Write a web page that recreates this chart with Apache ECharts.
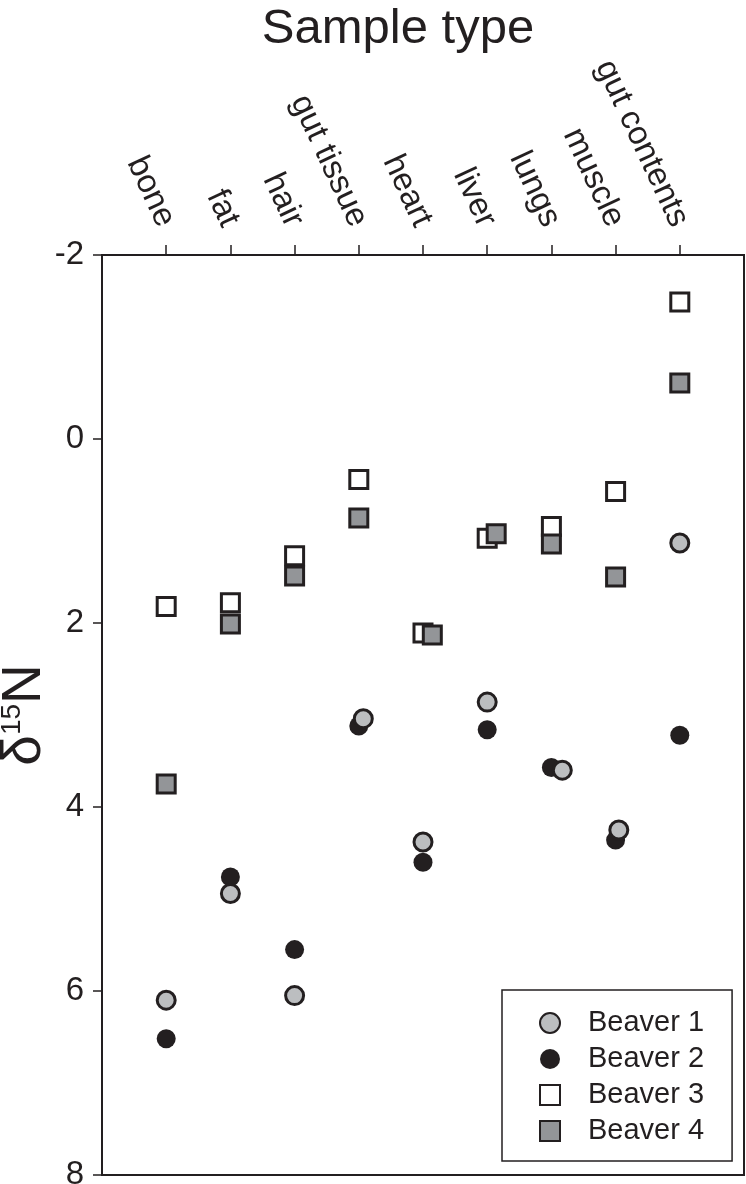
<!DOCTYPE html>
<html>
<head>
<meta charset="utf-8">
<title>Sample type</title>
<script src="https://cdn.jsdelivr.net/npm/echarts@6/dist/echarts.min.js"></script>
<style>
html, body { margin: 0; padding: 0; background: #fff; }
#chart { width: 746px; height: 1184px; }
</style>
</head>
<body>
<div id="chart"></div>
<script>
// categories along the top axis
var categories = ['bone', 'fat', 'hair', 'gut tissue', 'heart', 'liver', 'lungs', 'muscle', 'gut contents'];
var yTicks = [-2, 0, 2, 4, 6, 8];

// d15N per sample type
var beaver1 = [6.10, 4.94, 6.05, 3.04, 4.38, 2.86, 3.60, 4.25, 1.13];
var beaver2 = [6.52, 4.76, 5.55, 3.12, 4.60, 3.16, 3.57, 4.36, 3.22];
var beaver3 = [1.82, 1.78, 1.27, 0.44, 2.11, 1.08, 0.95, 0.57, -1.49];
var beaver4 = [3.75, 2.01, 1.49, 0.86, 2.13, 1.03, 1.14, 1.50, -0.61];

// small sideways shift (in category units) used in the original to separate overlapping points
var shift1 = [0, 0, 0, 0.07, 0, 0, 0.17, 0.05, 0];
var shift2 = [0, 0, 0, 0, 0, 0, 0, 0, 0];
var shift3 = [0, 0, 0, 0, 0, 0, 0, 0, 0];
var shift4 = [0, 0, 0, 0, 0.145, 0.14, 0, 0, 0];

var ink = '#231f20';
var font = 'Liberation Sans, Arial, Helvetica, sans-serif';

function pts(vals, shift) {
  return vals.map(function (v, i) { return [i + shift[i], v]; });
}

var catIdx = categories.map(function (c, i) { return i; });

var chart = echarts.init(document.getElementById('chart'));
var option = {
  animation: false,
  backgroundColor: '#fff',
  textStyle: { fontFamily: font, color: ink },
  title: {
    text: 'Sample type',
    left: 393,
    top: 0,
    textAlign: 'center',
    textStyle: { fontSize: 49, fontWeight: 'normal', color: ink, fontFamily: font }
  },
  grid: {
    left: 102, right: 2, top: 255, bottom: 9,
    outerBoundsMode: 'none',
    containLabel: false,
    show: true, borderColor: ink, borderWidth: 2
  },
  legend: {
    orient: 'vertical',
    left: 502,
    top: 990,
    data: ['Beaver 1', 'Beaver 2', 'Beaver 3', 'Beaver 4'],
    backgroundColor: '#fff',
    borderColor: ink,
    borderWidth: 1.5,
    padding: [18, 28, 15, 37],
    itemWidth: 20,
    itemHeight: 20,
    itemGap: 6,
    textStyle: { fontSize: 29, lineHeight: 30, padding: [0, 0, 0, 23], color: ink, fontFamily: font }
  },
  xAxis: {
    type: 'value',
    position: 'top',
    min: -1,
    max: 9,
    axisLine: { show: true, onZero: false, lineStyle: { color: ink, width: 1.5 } },
    axisTick: { show: true, customValues: catIdx, length: 10, lineStyle: { color: ink, width: 1.5 } },
    axisLabel: {
      customValues: catIdx,
      formatter: function (v) { return categories[Math.round(v)] || ''; },
      rotate: 65, // top axis: ECharts flips the sign
      margin: 30,
      fontSize: 33,
      color: ink,
      fontFamily: font
    },
    splitLine: { show: false }
  },
  yAxis: {
    type: 'value',
    inverse: true,
    min: yTicks[0],
    max: yTicks[yTicks.length - 1],
    interval: 2,
    name: '{a|δ}{b|15}{a|N}',
    nameLocation: 'middle',
    nameRotate: 90,
    nameGap: 50,
    nameMoveOverlap: false,
    nameTextStyle: {
      rich: {
        a: { fontSize: 55, lineHeight: 54, color: ink, fontFamily: font },
        b: { fontSize: 28, lineHeight: 26, verticalAlign: 'top', color: ink, fontFamily: font }
      }
    },
    axisLine: { show: true, onZero: false, lineStyle: { color: ink, width: 1.5 } },
    axisTick: { show: true, length: 9, lineStyle: { color: ink, width: 1.5 } },
    axisLabel: { margin: 18, fontSize: 33, color: ink, fontFamily: font },
    splitLine: { show: false }
  },
  series: [
    {
      name: 'Beaver 1', type: 'scatter', z: 4,
      symbol: 'circle', symbolSize: 18,
      itemStyle: { color: '#bcbec0', borderColor: ink, borderWidth: 3, opacity: 1 },
      data: pts(beaver1, shift1)
    },
    {
      name: 'Beaver 2', type: 'scatter', z: 3,
      symbol: 'circle', symbolSize: 19,
      itemStyle: { color: ink, borderWidth: 0, opacity: 1 },
      data: pts(beaver2, shift2)
    },
    {
      name: 'Beaver 3', type: 'scatter', z: 2,
      symbol: 'rect', symbolSize: 18,
      itemStyle: { color: '#fff', borderColor: ink, borderWidth: 3, opacity: 1 },
      data: pts(beaver3, shift3)
    },
    {
      name: 'Beaver 4', type: 'scatter', z: 3,
      symbol: 'rect', symbolSize: 18,
      itemStyle: { color: '#939598', borderColor: ink, borderWidth: 3, opacity: 1 },
      data: pts(beaver4, shift4)
    }
  ]
};
chart.setOption(option);
</script>
</body>
</html>
